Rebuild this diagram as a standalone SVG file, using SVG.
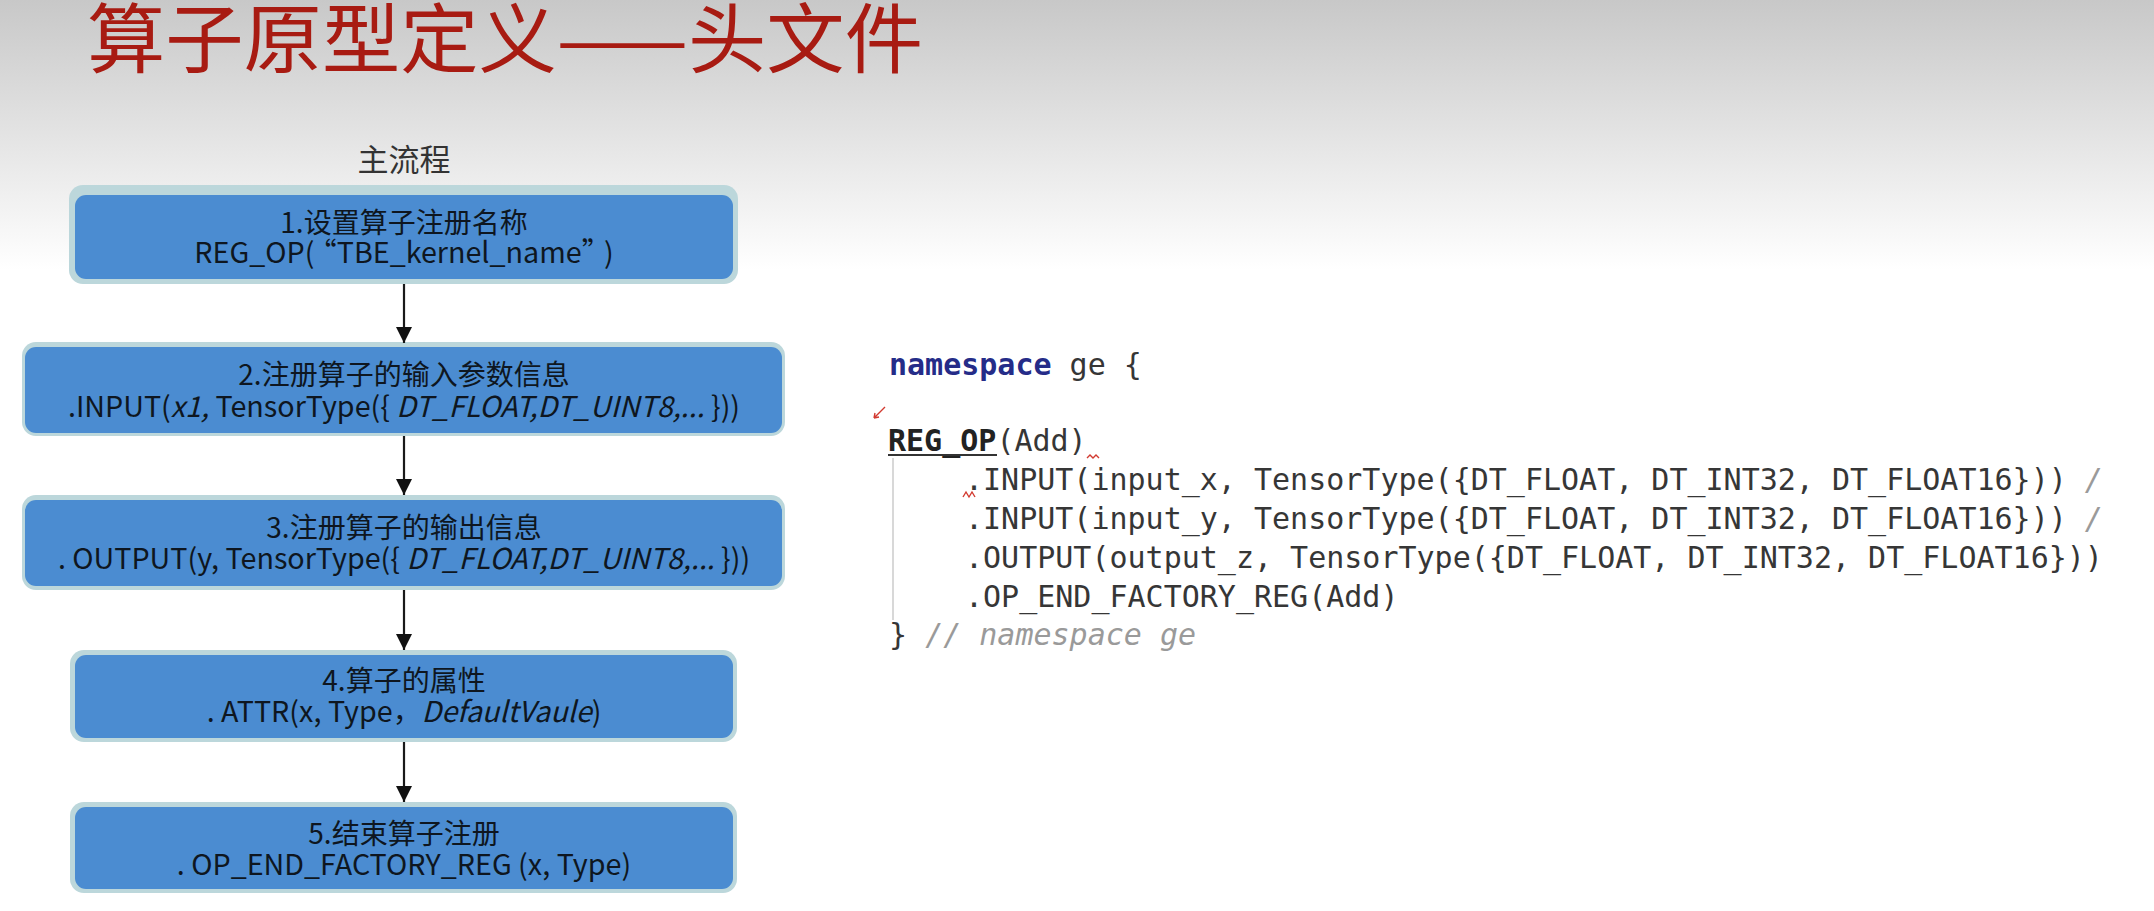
<svg xmlns="http://www.w3.org/2000/svg" width="2154" height="911" viewBox="0 0 2154 911">
  <defs>
    <linearGradient id="bg" x1="0" y1="0" x2="0" y2="270" gradientUnits="userSpaceOnUse">
      <stop offset="0" stop-color="#c8c8c8"/>
      <stop offset="1" stop-color="#ffffff"/>
    </linearGradient>
    <marker id="arrow" viewBox="0 0 16 16" refX="16" refY="8" markerWidth="16" markerHeight="16" markerUnits="userSpaceOnUse" orient="auto">
      <path d="M0,0 L16,8 L0,16 z" fill="#111"/>
    </marker>
    <clipPath id="codeclip">
      <rect x="0" y="0" width="2101" height="911"/>
    </clipPath>
  </defs>
  <style>
    .outer { fill: #bcd7db; }
    .inner { fill: #4b8cd1; }
    .lbl { font-family: "Noto Sans CJK SC", "Noto Sans", sans-serif; font-size: 28px; fill: #0e1620; text-anchor: middle; }
    .l2 { font-size: 28.7px; }
    .it { font-style: italic; }
    .code { font-family: "DejaVu Sans Mono", "Liberation Mono", monospace; font-size: 30px; fill: #363636; }
    .kw { font-weight: bold; fill: #252c88; }
    .bold { font-weight: bold; fill: #222; }
    .cmt { font-style: italic; fill: #9a9a9a; }
    .conn { stroke: #1a1a1a; stroke-width: 2.2; fill: none; marker-end: url(#arrow); }
    .red { stroke: #d23a30; stroke-width: 1.4; fill: none; }
  </style>

  <rect x="0" y="0" width="2154" height="911" fill="#ffffff"/>
  <rect x="0" y="0" width="2154" height="270" fill="url(#bg)"/>

  <text x="87" y="67" font-family="Noto Sans CJK SC, sans-serif" font-size="76" fill="#a81b12" textLength="836" lengthAdjust="spacingAndGlyphs">算子原型定义——头文件</text>

  <text x="404" y="171" font-family="Noto Sans CJK SC, sans-serif" font-size="31" fill="#333" text-anchor="middle">主流程</text>

  <g id="node1">
    <rect class="outer" x="69" y="185" width="669" height="99" rx="14"/>
    <rect class="inner" x="75" y="195" width="658" height="84" rx="11"/>
    <text class="lbl" x="404" y="233">1.设置算子注册名称</text>
    <text class="lbl l2" x="404" y="263">REG_OP(<tspan dx="8">“TBE_kernel_name”</tspan><tspan dx="8">)</tspan></text>
  </g>

  <g id="node2">
    <rect class="outer" x="22" y="342" width="763" height="94" rx="14"/>
    <rect class="inner" x="25" y="347" width="757" height="86" rx="11"/>
    <text class="lbl" x="404" y="385">2.注册算子的输入参数信息</text>
    <text class="lbl l2" x="404" y="417">.INPUT(<tspan class="it">x1,</tspan> TensorType({ <tspan class="it">DT_FLOAT,DT_UINT8,...</tspan> }))</text>
  </g>

  <g id="node3">
    <rect class="outer" x="22" y="495" width="763" height="95" rx="14"/>
    <rect class="inner" x="25" y="500" width="757" height="86" rx="11"/>
    <text class="lbl" x="404" y="538">3.注册算子的输出信息</text>
    <text class="lbl l2" x="404" y="569">. OUTPUT(y, TensorType({ <tspan class="it">DT_FLOAT,DT_UINT8,...</tspan> }))</text>
  </g>

  <g id="node4">
    <rect class="outer" x="70" y="650" width="667" height="92" rx="14"/>
    <rect class="inner" x="75" y="655" width="658" height="83" rx="11"/>
    <text class="lbl" x="404" y="691">4.算子的属性</text>
    <text class="lbl l2" x="404" y="722">. ATTR(x, Type，<tspan class="it">DefaultVaule</tspan>)</text>
  </g>

  <g id="node5">
    <rect class="outer" x="70" y="802" width="667" height="91" rx="14"/>
    <rect class="inner" x="75" y="807" width="658" height="82" rx="11"/>
    <text class="lbl" x="404" y="844">5.结束算子注册</text>
    <text class="lbl l2" x="404" y="875">. OP_END_FACTORY_REG (x, Type)</text>
  </g>

  <g id="connectors">
    <line class="conn" x1="404" y1="284" x2="404" y2="343"/>
    <line class="conn" x1="404" y1="436" x2="404" y2="495"/>
    <line class="conn" x1="404" y1="590" x2="404" y2="650"/>
    <line class="conn" x1="404" y1="742" x2="404" y2="802"/>
  </g>

  <g id="code" clip-path="url(#codeclip)">
    <line x1="893" y1="458" x2="893" y2="620" stroke="#d8d8d8" stroke-width="2"/>
    <text class="code" x="889" y="375" xml:space="preserve"><tspan class="kw">namespace</tspan> ge {</text>
    <text class="code" x="888" y="451"><tspan class="bold">REG_OP</tspan>(Add)</text>
    <line x1="888" y1="455" x2="997" y2="455" stroke="#333" stroke-width="2"/>
    <text class="code" x="965" y="490" xml:space="preserve">.INPUT(input_x, TensorType({DT_FLOAT, DT_INT32, DT_FLOAT16})) <tspan class="cmt">//</tspan></text>
    <text class="code" x="965" y="529" xml:space="preserve">.INPUT(input_y, TensorType({DT_FLOAT, DT_INT32, DT_FLOAT16})) <tspan class="cmt">//</tspan></text>
    <text class="code" x="965" y="568" xml:space="preserve">.OUTPUT(output_z, TensorType({DT_FLOAT, DT_INT32, DT_FLOAT16}))</text>
    <text class="code" x="965" y="607">.OP_END_FACTORY_REG(Add)</text>
    <text class="code" x="889" y="645" xml:space="preserve">} <tspan class="cmt">// namespace ge</tspan></text>
    <path class="red" d="M885,407 L874,418 M874,418 l1,-5 M874,418 l5,-1"/>
    <polyline class="red" points="1087,458 1090,455 1093,458 1096,455 1099,458"/>
    <polyline class="red" points="963,497 966,492 969,497 972,492 975,497"/>
  </g>
</svg>
